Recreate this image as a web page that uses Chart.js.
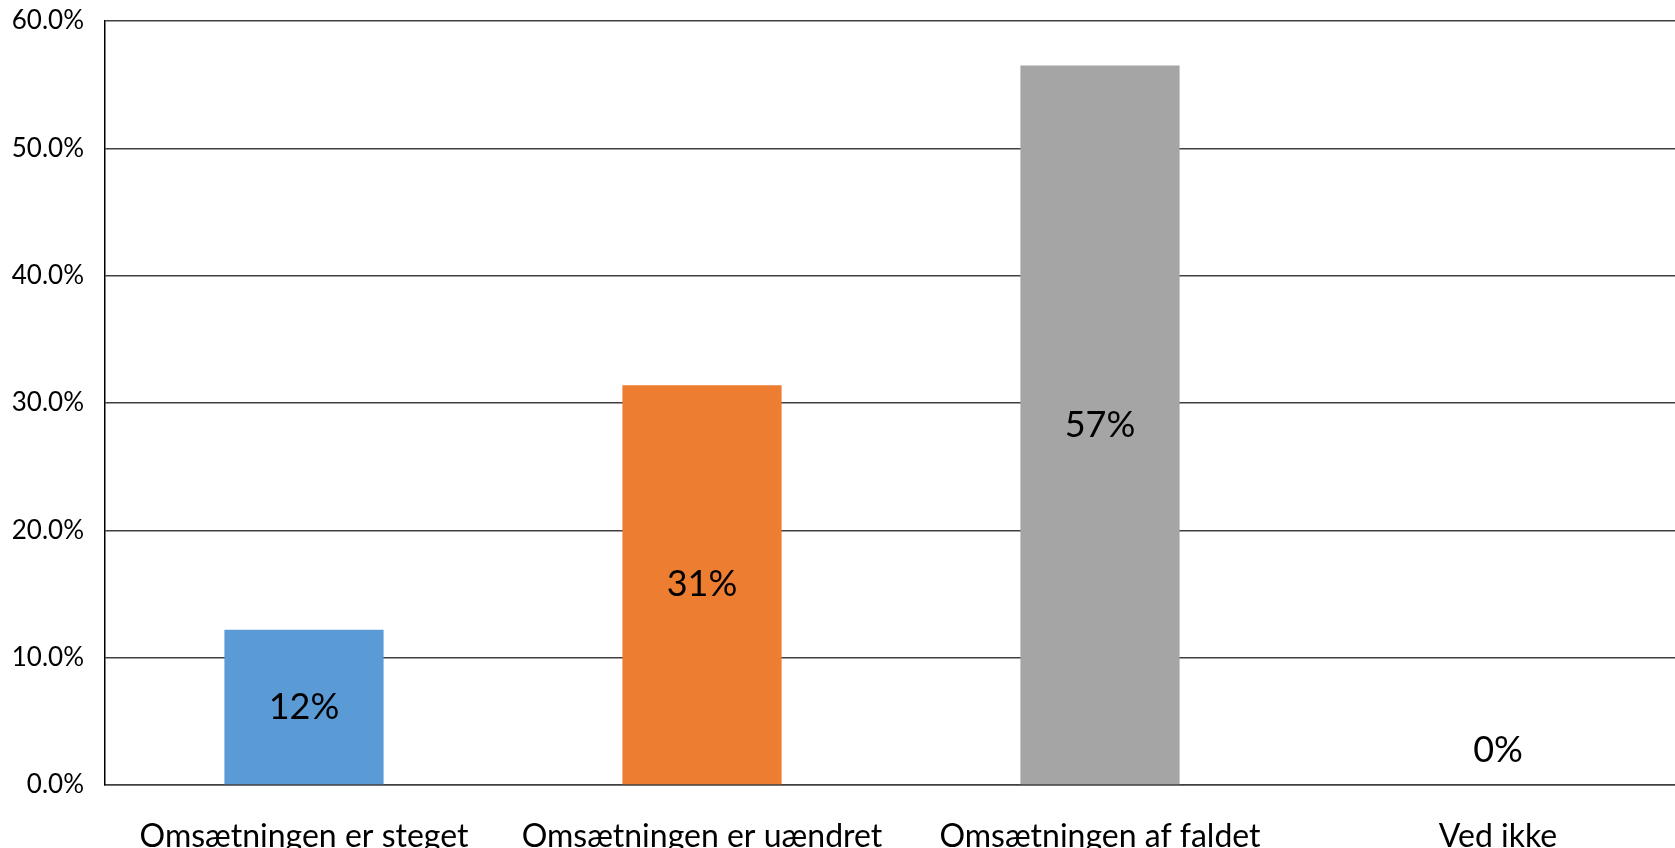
<!DOCTYPE html>
<html>
<head>
<meta charset="utf-8">
<script src="https://cdn.jsdelivr.net/npm/chart.js@4"></script>
<style>
  html, body { margin: 0; padding: 0; background: #ffffff; overflow: hidden; }
  /* the plot runs a bit past the right edge of the window, like the original */
  #wrap { width: 1697px; height: 848px; }
</style>
</head>
<body>
<div id="wrap"><canvas id="chart" width="1697" height="848"></canvas></div>
<script>
// categories and values (percent)
const categories = ['Omsætningen er steget', 'Omsætningen er uændret', 'Omsætningen af faldet', 'Ved ikke'];
const values = [12.2, 31.4, 56.5, 0];
const barColors = ['#5B9BD5', '#ED7D31', '#A5A5A5', '#FFC000'];
const yTicks = [0, 10, 20, 30, 40, 50, 60];

const FONT = 'Lato, "Open Sans", sans-serif';

// draws the "12%" style labels in the middle of each bar
const barLabels = {
    id: 'barLabels',
    afterDatasetsDraw(chart) {
        const ctx = chart.ctx;
        const meta = chart.getDatasetMeta(0);
        ctx.save();
        ctx.font = '36px ' + FONT;
        ctx.fillStyle = '#000000';
        ctx.textAlign = 'center';
        ctx.textBaseline = 'middle';
        meta.data.forEach(function(bar, i) {
            let y = (bar.y + bar.base) / 2;
            // tiny bars get the label just above the axis
            if (bar.base - y < 35) y = bar.base - 35;
            ctx.fillText(Math.round(values[i]) + '%', bar.x, y);
        });
        ctx.restore();
    }
};

new Chart(document.getElementById('chart'), {
    type: 'bar',
    data: {
        labels: categories,
        datasets: [{
            data: values,
            backgroundColor: barColors,
            borderWidth: 0,
            barPercentage: 0.4,
            categoryPercentage: 1
        }]
    },
    options: {
        responsive: false,
        animation: false,
        layout: { padding: { top: 21, left: 0, right: 0, bottom: 0 } },
        plugins: {
            legend: { display: false },
            tooltip: { enabled: false }
        },
        scales: {
            x: {
                grid: { display: false, drawTicks: false },
                border: { display: true, color: '#404040', width: 1.5 },
                ticks: {
                    color: '#000000',
                    font: { family: FONT, size: 32 },
                    padding: 32,
                    maxRotation: 0,
                    autoSkip: false
                },
                afterFit: function(scale) { scale.height = 63; }
            },
            y: {
                min: 0,
                max: 60,
                afterBuildTicks: function(scale) {
                    scale.ticks = yTicks.map(function(v) { return { value: v }; });
                },
                grid: { color: '#404040', lineWidth: 1.5, drawTicks: false },
                border: { display: true, color: '#000000', width: 1.5 },
                ticks: {
                    color: '#000000',
                    font: { family: FONT, size: 26 },
                    padding: 21,
                    callback: function(v) { return v.toFixed(1) + '%'; }
                },
                afterFit: function(scale) {
                    scale.width = 105;
                    // don't let the tick padding push the plot down
                    scale.paddingTop = 0;
                    scale.paddingBottom = 0;
                }
            }
        }
    },
    plugins: [barLabels]
});
</script>
</body>
</html>
